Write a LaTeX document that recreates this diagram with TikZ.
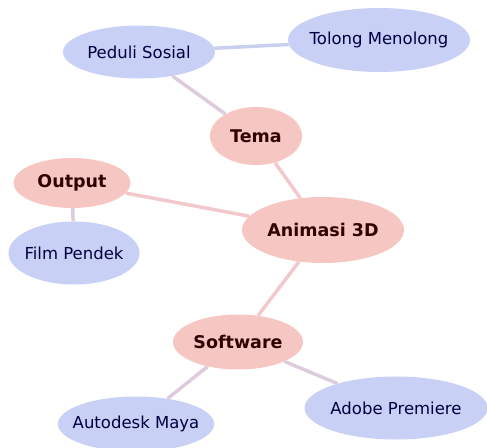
\documentclass[tikz,border=0pt]{standalone}
\usepackage{fontspec}
\setmainfont{DejaVu Sans}
\usetikzlibrary{shapes.geometric}
\definecolor{pinkfill}{HTML}{F6C6C2}
\definecolor{bluefill}{HTML}{C8D0F6}
\definecolor{pinkline}{HTML}{F2C8CC}
\definecolor{blueline}{HTML}{C8D0EE}
\begin{document}
\begin{tikzpicture}[x=1pt,y=-1pt,
    topic/.style={ellipse,fill=pinkfill,inner xsep=-8pt,inner ysep=0pt,font=\bfseries\fontsize{17.5}{20}\selectfont,text=black!80!red},
    leaf/.style={ellipse,fill=bluefill,inner xsep=-8pt,inner ysep=0pt,font=\fontsize{16.5}{19}\selectfont,text=black!75!blue},
    pinkedge/.style={pinkline,line width=3.5pt},
    blueedge/.style={blueline,line width=3.5pt},
    mixedge/.style={pinkline!50!blueline,line width=3.5pt}]
    \useasboundingbox (0,0) rectangle (487,447);
    \node[topic,minimum width=162pt,minimum height=66pt] (anim) at (323,230) {Animasi 3D};
    \node[topic,minimum width=92pt,minimum height=58pt] (tema) at (256,136) {Tema};
    \node[topic,minimum width=117pt,minimum height=50pt] (output) at (72,183) {Output};
    \node[topic,minimum width=130pt,minimum height=55pt] (soft) at (238,342) {Software};
    \node[leaf,minimum width=152pt,minimum height=53pt] (peduli) at (139,52) {Peduli Sosial};
    \node[leaf,minimum width=182pt,minimum height=64pt] (tolong) at (379,40) {Tolong Menolong};
    \node[leaf,minimum width=131pt,minimum height=63pt] (film) at (74,253) {Film Pendek};
    \node[leaf,minimum width=152pt,minimum height=55pt] (maya) at (136,424) {Autodesk Maya};
    \node[leaf,minimum width=183pt,minimum height=63pt] (adobe) at (396,408) {Adobe Premiere};
    % connectors
    \draw[blueedge] (peduli) -- (tolong);
    \draw[mixedge] (peduli) -- (tema);
    \draw[pinkedge] (tema) -- (anim);
    \draw[pinkedge] (output) -- (anim);
    \draw[mixedge] (output) -- (film);
    \draw[pinkedge] (anim) -- (soft);
    \draw[mixedge] (soft) -- (maya);
    \draw[mixedge] (soft) -- (adobe);
\end{tikzpicture}
\end{document}
